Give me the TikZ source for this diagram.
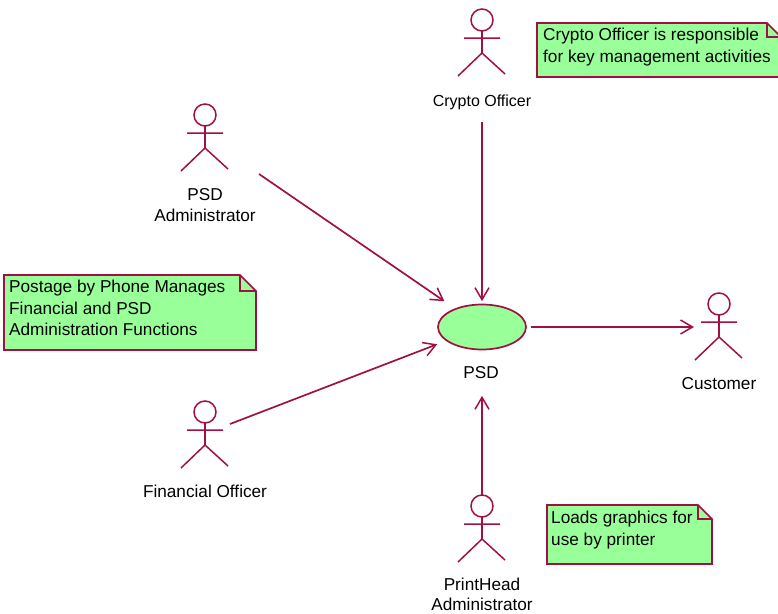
\documentclass[tikz,border=0pt]{standalone}
\usepackage{fontspec}
\setmainfont{Liberation Sans}
\usetikzlibrary{arrows.meta,shapes.geometric}
\definecolor{umlline}{HTML}{A01045}
\definecolor{umlfill}{HTML}{99FF99}
\tikzset{
  x=1pt,y=-1pt,
  line/.style={draw=umlline,line width=1.7pt},
  limb/.style={draw=umlline,line width=1.5pt},
  arr/.style={line,-{Straight Barb[length=12pt,width=14pt,line width=1.5pt]}},
  vline/.style={line width=2.1pt},
  lab/.style={font=\fontsize{17.2}{20.5}\selectfont,text=black,align=center,inner sep=0pt},
  notetext/.style={font=\fontsize{17.2}{21.5}\selectfont,text=black,align=left,anchor=north west,inner sep=0pt},
  usecase/.style={ellipse,line,fill=umlfill,minimum width=88pt,minimum height=45pt,inner sep=0pt},
  actor/.pic={
    \draw[limb] (0,-11) circle[radius=11];
    \draw[limb] (-18,7) -- (18,7) (-24,45) -- (0,22) -- (23,43);
    \draw[limb,line width=1.9pt] (0,0) -- (0,22);
  }
}
\newcommand{\umlnote}[5]{% x1,y1,x2,y2,fold
  \path[line,fill=umlfill] (#1,#2) -- (#3-#5,#2) -- (#3,#2+#5) -- (#3,#4) -- (#1,#4) -- cycle;
  \draw[line] (#3-#5,#2) -- (#3-#5,#2+#5) -- (#3,#2+#5);
}
\begin{document}
\begin{tikzpicture}
\useasboundingbox (0,0) rectangle (778,613);
\clip (0,0) rectangle (778,613);
% actors
\pic at (205,126) {actor};
\pic at (205,423) {actor};
\pic at (482,31) {actor};
\pic at (719,315) {actor};
\pic at (482,517) {actor};
% actor labels
\node[lab] (admin) at (205,205) {PSD\\Administrator};
\node[lab] (financial) at (205,491) {Financial Officer};
\node[lab,font=\fontsize{16}{20}\selectfont] (crypto) at (482,102) {Crypto Officer};
\node[lab] (customer) at (719,384) {Customer};
\node[lab,font=\fontsize{17.2}{19.5}\selectfont] (printhead) at (482,594.5) {PrintHead\\Administrator};
% use case
\node[usecase] (psd) at (482,327) {};
\node[lab] (psdlabel) at (481,373) {PSD};
% attachment points beside the actors
\coordinate (adminout) at (259,174);
\coordinate (financialout) at (230,424);
\coordinate (cryptoout) at (482,122);
\coordinate (customerin) at (694,327);
\coordinate (printheadout) at (482,495);
% connectors
\draw[arr,shorten >=12.7pt] (adminout) -- (psd);
\draw[arr,shorten >=9.4pt] (financialout) -- (psd);
\draw[arr,vline,shorten >=2.5pt] (cryptoout) -- (psd);
\draw[arr,shorten <=4pt] (psd) -- (customerin);
\draw[arr,vline,shorten >=45.5pt] (printheadout) -- (psd);
% notes
\umlnote{537}{23}{781}{77}{14}
\umlnote{4}{275}{256}{350}{16}
\umlnote{547}{505}{712}{564}{14}
\node[notetext] (n1) at (543,28) {Crypto Officer is responsible\\for key management activities};
\node[notetext] (n2) at (9,280) {Postage by Phone Manages\\Financial and PSD\\Administration Functions};
\node[notetext] (n3) at (551,511) {Loads graphics for\\use by printer};
\end{tikzpicture}
\end{document}
